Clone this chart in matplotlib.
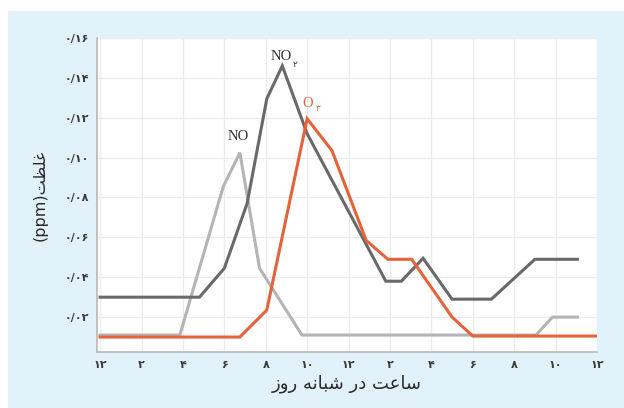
import matplotlib
matplotlib.use("Agg")
import matplotlib.pyplot as plt
from matplotlib.patches import Rectangle

# ---- data (hours since midnight, concentration in ppm) ----
no2_h = [0, 4.8, 6.0, 7.1, 8.05, 8.8, 10.0, 13.8, 14.55, 15.6, 17.0, 18.9, 21.0, 23.05]
no2_v = [0.030, 0.030, 0.0445, 0.077, 0.1295, 0.146, 0.112, 0.038, 0.038, 0.0495, 0.029, 0.029, 0.049, 0.049]

no_h = [0, 3.85, 5.95, 6.75, 7.7, 9.75, 21.05, 21.85, 23.05]
no_v = [0.011, 0.011, 0.0855, 0.1025, 0.0445, 0.011, 0.011, 0.020, 0.020]

o3_h = [0, 6.75, 8.05, 10.0, 11.2, 12.85, 13.9, 15.05, 17.0, 18.0, 24.0]
o3_v = [0.010, 0.010, 0.0235, 0.1195, 0.1035, 0.0585, 0.049, 0.049, 0.020, 0.0105, 0.0105]

x_ticks = [0, 2, 4, 6, 8, 10, 12, 14, 16, 18, 20, 22, 24]
x_labels = ['۱۲', '۲', '۴', '۶', '۸', '۱۰', '۱۲', '۲', '۴', '۶', '۸', '۱۰', '۱۲']
y_ticks = [0.02, 0.04, 0.06, 0.08, 0.10, 0.12, 0.14, 0.16]
y_labels = ['۰/۰۲', '۰/۰۴', '۰/۰۶', '۰/۰۸', '۰/۱۰', '۰/۱۲', '۰/۱۴', '۰/۱۶']

# Persian titles in visual (shaped, left-to-right) order
x_title = "\uFEAF\uFEED\uFEAD \uFEEA\uFEE7\uFE8E\uFE92\uFEB7 \uFEAD\uFEA9 \uFE96\uFECB\uFE8E\uFEB3"  # ساعت در شبانه روز
y_title = "(ppm)\uFE96\uFEC8\uFEE0\uFECF"  # غلظت(ppm)

BG = '#e2f2fb'
fig = plt.figure(figsize=(6.24, 4.08), dpi=100, facecolor=BG)
# white strips at top / left like the cropped page
fig.patches.append(Rectangle((0, 1 - 11 / 408), 1, 11 / 408, transform=fig.transFigure,
                             facecolor='white', edgecolor='none', zorder=0))
fig.patches.append(Rectangle((0, 0), 8 / 624, 1, transform=fig.transFigure,
                             facecolor='white', edgecolor='none', zorder=0))

ax = fig.add_axes([97 / 624, 1 - 352 / 408, 500 / 624, 314 / 408])
ax.set_facecolor('white')

ax.plot(no_h, no_v, color='#b4b4b4', lw=2.2, solid_joinstyle='miter', zorder=3)
ax.plot(no2_h, no2_v, color='#696969', lw=2.2, solid_joinstyle='miter', zorder=4)
ax.plot(o3_h, o3_v, color='#e4633a', lw=2.2, solid_joinstyle='miter', zorder=5)

ax.set_xlim(-0.15, 24)
ax.set_ylim(0.0025, 0.16)
ax.set_xticks(x_ticks)
ax.set_xticklabels(x_labels, fontweight='bold')
ax.set_yticks(y_ticks)
ax.set_yticklabels(y_labels, fontweight='bold')
ax.grid(True, color='#ececec', lw=0.9)
ax.set_axisbelow(True)
ax.tick_params(length=0, labelsize=8, colors='#3a3a3a', pad=6)
for s in ['top', 'right']:
    ax.spines[s].set_visible(False)
for s in ['left', 'bottom']:
    ax.spines[s].set_color('#b8b8b8')
    ax.spines[s].set_linewidth(1.2)

ax.set_xlabel(x_title, fontsize=13, color='#2a2a2a', labelpad=3)
ax.set_ylabel(y_title, fontsize=11.5, color='#2a2a2a', labelpad=12)

# series labels
serif = ['Liberation Serif', 'DejaVu Sans']
ax.text(6.65, 0.1105, 'NO', fontsize=10.5, family=serif, color='#333333', ha='center', va='center')
ax.text(9.25, 0.1505, 'NO', fontsize=10.5, family=serif, color='#333333', ha='right', va='center')
ax.text(9.3, 0.1465, '۲', fontsize=6.5, family=['DejaVu Sans'], color='#333333', ha='left', va='center')
ax.text(10.3, 0.127, 'O', fontsize=10.5, family=serif, color='#e4633a', ha='right', va='center')
ax.text(10.4, 0.1245, '۳', fontsize=6.5, family=['DejaVu Sans'], color='#e4633a', ha='left', va='center')

fig.savefig('out.png', dpi=100, facecolor=BG)
